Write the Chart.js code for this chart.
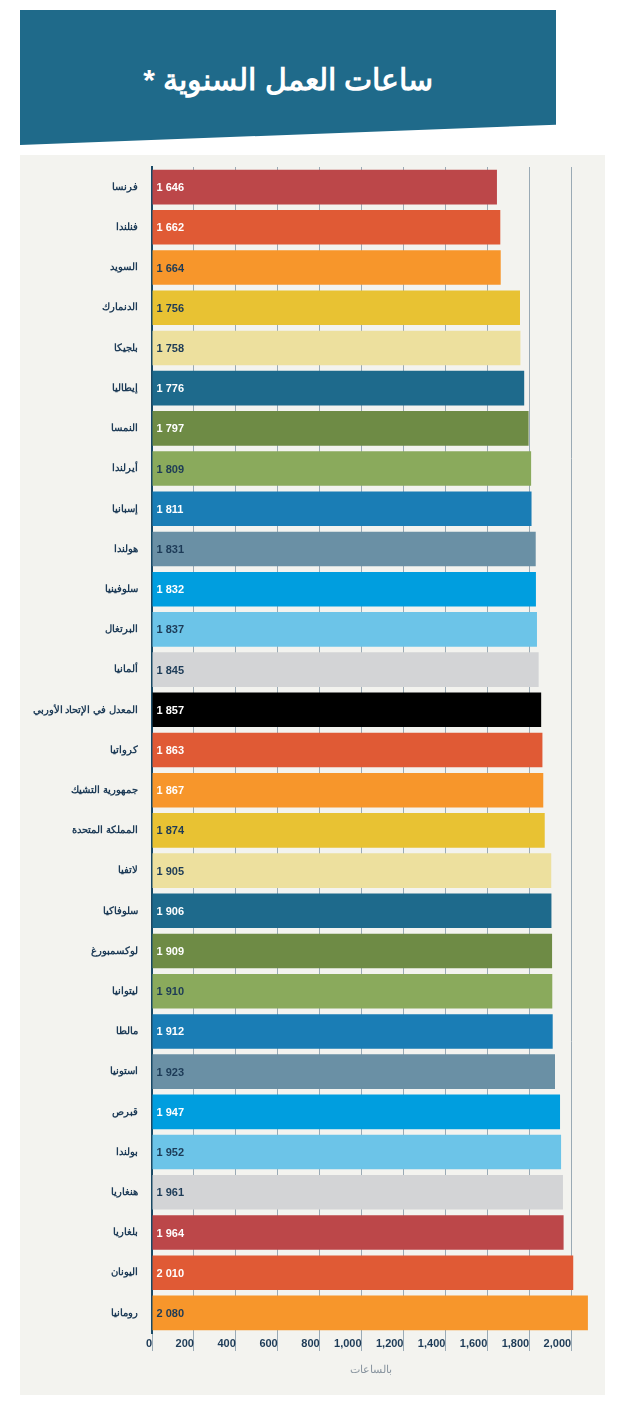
<!DOCTYPE html>
<html><head><meta charset="utf-8">
<script src="https://cdn.jsdelivr.net/npm/chart.js@4"></script>
<style>
body{margin:0;background:#fff;width:630px;height:1409px;position:relative;font-family:'Liberation Sans',Arial,sans-serif}
#banner{position:absolute;left:20px;top:10px;width:536px;height:135px;background:#1F6A8A;clip-path:polygon(0 0,100% 0,100% 85%,0 100%)}
#banner div{position:absolute;left:0;right:0;top:52px;text-align:center;color:#fff;font-weight:bold;font-size:30px;direction:rtl}
#panel{position:absolute;left:20px;top:155px;width:585px;height:1240px;background:#F3F3EF}
</style></head><body>
<div id="banner"><div>ساعات العمل السنوية *</div></div>
<div id="panel"><canvas id="c" width="585" height="1240"></canvas></div>
<script>
// Annual working hours by country
const countries = ['فرنسا','فنلندا','السويد','الدنمارك','بلجيكا','إيطاليا','النمسا','أيرلندا','إسبانيا','هولندا','سلوفينيا','البرتغال','ألمانيا','المعدل في الإتحاد الأوربي','كرواتيا','جمهورية التشيك','المملكة المتحدة','لاتفيا','سلوفاكيا','لوكسمبورغ','ليتوانيا','مالطا','استونيا','قبرص','بولندا','هنغاريا','بلغاريا','اليونان','رومانيا'];
const hours = [1646,1662,1664,1756,1758,1776,1797,1809,1811,1831,1832,1837,1845,1857,1863,1867,1874,1905,1906,1909,1910,1912,1923,1947,1952,1961,1964,2010,2080];
const valueLabels = ['1 646','1 662','1 664','1 756','1 758','1 776','1 797','1 809','1 811','1 831','1 832','1 837','1 845','1 857','1 863','1 867','1 874','1 905','1 906','1 909','1 910','1 912','1 923','1 947','1 952','1 961','1 964','2 010','2 080'];
const barColors = ['#BC4749','#E05A35','#F7962B','#E8C233','#EDE09E','#1E6A8C','#6E8B45','#8AAA5C','#1A7DB5','#6A90A5','#009EDF','#6CC4E8','#D3D4D6','#000000',
  '#E05A35','#F7962B','#E8C233','#EDE09E','#1E6A8C','#6E8B45','#8AAA5C','#1A7DB5','#6A90A5','#009EDF','#6CC4E8','#D3D4D6','#BC4749','#E05A35','#F7962B'];
const labelColors = ['#fff','#fff','#1d3b57','#1d3b57','#1d3b57','#fff','#fff','#1d3b57','#fff','#1d3b57','#fff','#1d3b57','#1d3b57','#fff',
  '#fff','#fff','#1d3b57','#1d3b57','#fff','#fff','#1d3b57','#fff','#1d3b57','#fff','#1d3b57','#1d3b57','#fff','#fff','#1d3b57'];
const xTicks = [0,200,400,600,800,1000,1200,1400,1600,1800,2000];

const NAVY = '#1d3b57';

const valuePlugin = {
  id: 'values',
  afterDatasetsDraw(chart) {
    const ctx = chart.ctx;
    const meta = chart.getDatasetMeta(0);
    ctx.save();
    ctx.font = 'bold 11px "Liberation Sans", Arial, sans-serif';
    ctx.textBaseline = 'middle';
    ctx.textAlign = 'left';
    meta.data.forEach((bar, i) => {
      ctx.fillStyle = labelColors[i];
      ctx.fillText(valueLabels[i], bar.base + 4, bar.y + 1);
    });
    ctx.restore();
  }
};

new Chart(document.getElementById('c'), {
  type: 'bar',
  data: { labels: countries, datasets: [{ data: hours, backgroundColor: barColors, barPercentage: 0.86, categoryPercentage: 1 }] },
  options: {
    indexAxis: 'y', responsive: false, animation: false,
    layout: { padding: { top: 12, right: 15, bottom: 14, left: 0 } },
    plugins: { legend: { display: false }, tooltip: { enabled: false } },
    scales: {
      x: {
        min: 0, max: 2090,
        afterBuildTicks: s => { s.ticks = xTicks.map(v => ({ value: v })); },
        afterFit: s => { s.height = 48; },
        grid: { color: '#9AAAB5', lineWidth: 1, tickLength: 18, drawOnChartArea: true },
        border: { display: false },
        ticks: { align: 'end', padding: -14, color: NAVY, font: { weight: 'bold', size: 11, family: '"Liberation Sans", Arial' },
          callback: v => v.toLocaleString('en-US') },
        title: { display: true, text: 'بالساعات', color: '#8a96a0', font: { size: 11 }, padding: { top: 4 } }
      },
      y: {
        afterFit: s => { s.width = 132; },
        grid: { display: false },
        border: { color: '#1A4A66', width: 2 },
        ticks: { color: NAVY, font: { weight: 'bold', size: 10, family: '"Liberation Sans", Arial' }, padding: 6 }
      }
    }
  },
  plugins: [valuePlugin]
});
</script>
</body></html>
